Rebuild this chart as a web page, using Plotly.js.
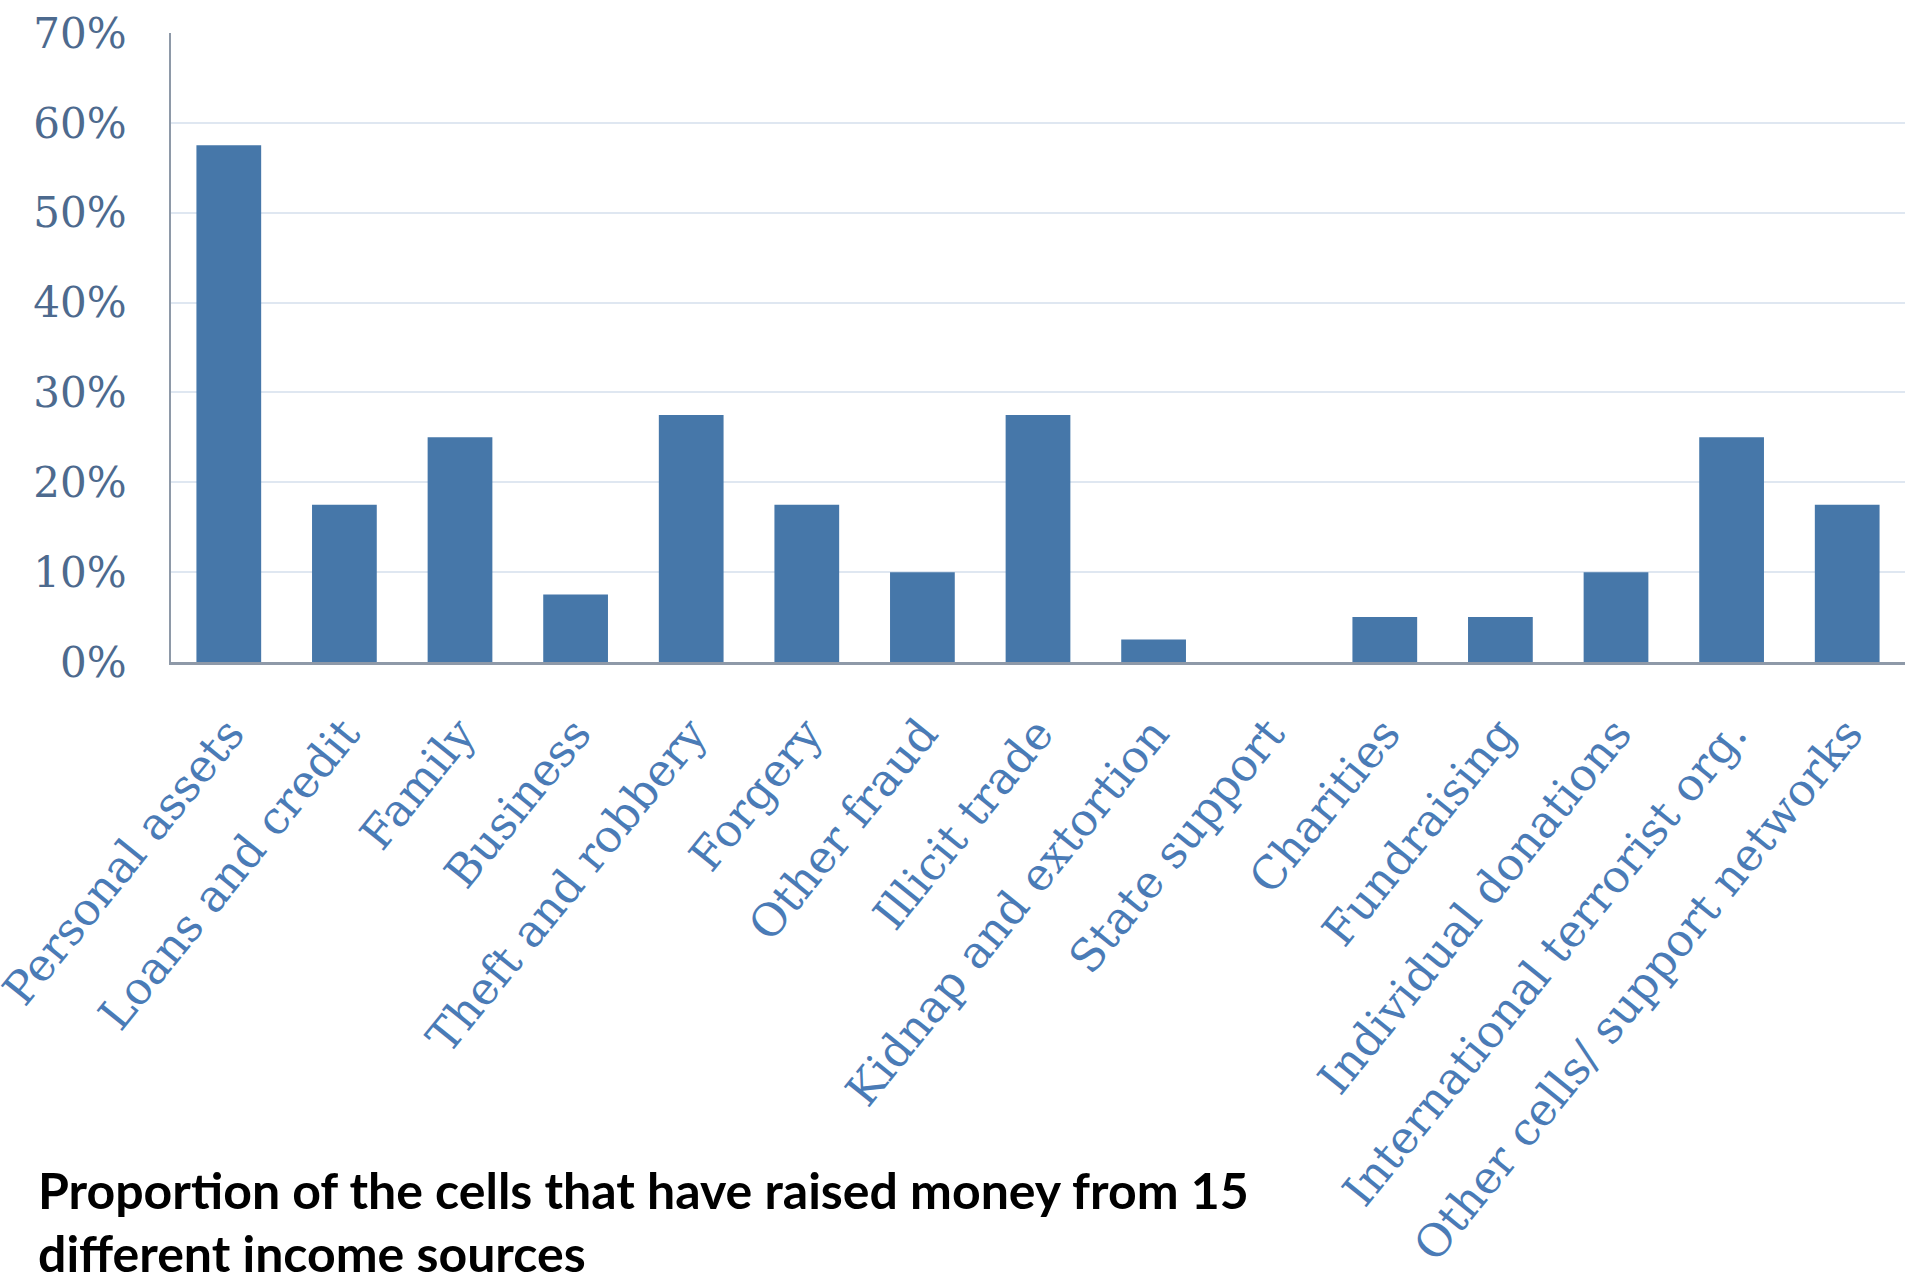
<!DOCTYPE html>
<html>
<head>
<meta charset="utf-8">
<script src="https://cdn.plot.ly/plotly-3.0.1.min.js"></script>
<style>
html,body{margin:0;padding:0;background:#fff;}
#chart{width:1905px;height:1285px;}
</style>
</head>
<body>
<div id="chart"></div>
<script>
const categories = [
  "Personal assets", "Loans and credit", "Family", "Business", "Theft and robbery",
  "Forgery", "Other fraud", "Illicit trade", "Kidnap and extortion", "State support",
  "Charities", "Fundraising", "Individual donations", "International terrorist org.",
  "Other cells/ support networks"
];
const shares = [0.575, 0.175, 0.25, 0.075, 0.275, 0.175, 0.10, 0.275, 0.025, 0.0, 0.05, 0.05, 0.10, 0.25, 0.175];
const yTickValues = [0, 0.1, 0.2, 0.3, 0.4, 0.5, 0.6, 0.7];
const captionLines = [
  "Proportion of the cells that have raised money from 15",
  "different income sources"
];

const trace = {
  type: "bar",
  x: categories,
  y: shares,
  marker: { color: "#4677a9" },
  hoverinfo: "x+y"
};

const captionFont = { family: "Lato, Open Sans, sans-serif", size: 50, color: "#000000" };

const layout = {
  width: 1905,
  height: 1285,
  margin: { l: 171, r: 0, t: 33, b: 623 },
  paper_bgcolor: "#ffffff",
  plot_bgcolor: "#ffffff",
  bargap: 0.44,
  showlegend: false,
  xaxis: {
    type: "category",
    range: [-0.5, 14.5],
    tickangle: -51,
    tickfont: { family: "DejaVu Serif, serif", size: 45, color: "#4a7bb6" },
    showgrid: false,
    showline: true,
    linecolor: "#8e99a8",
    linewidth: 3,
    ticks: "",
    ticklabelstandoff: 24,
    fixedrange: true
  },
  yaxis: {
    range: [0, 0.70],
    tickvals: yTickValues,
    tickformat: ".0%",
    tickfont: { family: "DejaVu Serif, serif", size: 42, color: "#4d6a8e" },
    showgrid: true,
    gridcolor: "#dfe7f1",
    gridwidth: 2,
    zeroline: false,
    showline: true,
    linecolor: "#8e99a8",
    linewidth: 2,
    ticks: "",
    ticklabelstandoff: 34,
    fixedrange: true
  },
  annotations: [
    {
      xref: "paper", yref: "paper",
      x: -135 / 1734, y: -(1222 - 662) / 629,
      xanchor: "left", yanchor: "bottom",
      text: "<b>" + captionLines[0] + "</b>",
      showarrow: false,
      align: "left",
      font: captionFont
    },
    {
      xref: "paper", yref: "paper",
      x: -135 / 1734, y: -(1285 - 662) / 629,
      xanchor: "left", yanchor: "bottom",
      text: "<b>" + captionLines[1] + "</b>",
      showarrow: false,
      align: "left",
      font: captionFont
    }
  ]
};

Plotly.newPlot("chart", [trace], layout, { displayModeBar: false, staticPlot: true });
</script>
</body>
</html>
